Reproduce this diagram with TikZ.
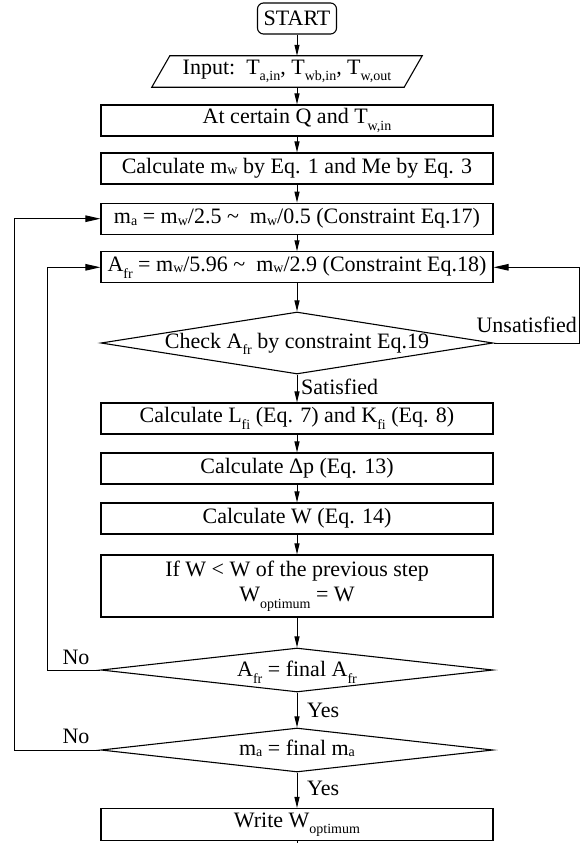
\documentclass[tikz,border=0pt]{standalone}
\usepackage{fontspec}
\setmainfont{Liberation Serif}
\usetikzlibrary{shapes.geometric,arrows.meta,calc}
% lowered subscript (T_{a,in}, A_{fr}, W_{optimum})
\newcommand\lsub[1]{\raisebox{-0.3em}{\fontsize{14}{14}\selectfont #1}}
% small subscript sitting near the baseline (m_w, m_a)
\newcommand\ssub[1]{\raisebox{-0.05em}{\fontsize{14}{14}\selectfont #1}}
\begin{document}
\begin{tikzpicture}[x=1pt,y=-1pt,
  every node/.style={font=\fontsize{22}{25}\selectfont},
  proc/.style={draw, line width=1.1pt, rectangle, minimum width=392pt,
    minimum height=31pt, inner sep=0pt},
  decide/.style={draw, line width=1.1pt, diamond, minimum width=392pt,
    inner sep=0pt},
  arr/.style={-{Triangle[length=11pt,width=5pt]}, line width=1pt},
  bigarr/.style={-{Triangle[length=15pt,width=6.5pt]}, line width=1pt},
  tag/.style={inner sep=0pt}
]
\path[use as bounding box] (0,0) rectangle (585,843);

% main column
\node[draw, line width=1.1pt, rounded corners=6pt, minimum width=79pt,
  minimum height=31pt, inner sep=2pt] (start) at (297,18.5) {START};
% input: a parallelogram drawn round an invisible box
\node[rectangle, minimum width=252pt, minimum height=31pt, inner sep=0pt]
  (input) at (287,71.5)
  {Input:\ \ T\lsub{a,in}, T\lsub{wb,in}, T\lsub{w,out}};
\draw[line width=1.1pt] ([xshift=-9pt]input.south west)
  -- ([xshift=-9pt]input.south east) -- ([xshift=9pt]input.north east)
  -- ([xshift=9pt]input.north west) -- cycle;
\node[proc] (atq) at (297,120.5) {At certain Q and T\lsub{w,in}\hspace{10pt}};
\node[proc] (mw) at (297,168.5) {Calculate m\ssub{w} by Eq. 1 and Me by Eq. 3};
\node[proc] (ma) at (297,218.7)
  {m\ssub{a} = m\ssub{w}/2.5 \textasciitilde\ \ m\ssub{w}/0.5 (Constraint Eq.17)};
\node[proc] (afr) at (297,267.3)
  {A\lsub{fr} = m\ssub{w}/5.96 \textasciitilde\ \ m\ssub{w}/2.9 (Constraint Eq.18)};
\node[decide, minimum height=62pt] (check) at (297,343) {};
\node[tag] (checktxt) at (297,344) {Check A\lsub{fr} by constraint Eq.19};
\node[proc] (lfi) at (297,418.5) {Calculate L\lsub{fi} (Eq. 7) and K\lsub{fi} (Eq. 8)};
\node[proc] (dp) at (297,468.5) {Calculate Δp (Eq. 13)};
\node[proc] (wcalc) at (297,518.5) {Calculate W (Eq. 14)};
\node[proc, minimum height=62pt, align=center] (ifw) at (297,586)
  {If W < W of the previous step\\W\lsub{optimum} = W};
\node[decide, minimum height=44pt] (afrend) at (297,670) {};
\node[tag] (afrendtxt) at (297,672) {A\lsub{fr} = final A\lsub{fr}};
\node[decide, minimum height=44pt] (maend) at (297,750) {};
\node[tag] (maendtxt) at (297,748) {m\ssub{a} = final m\ssub{a}};
\node[proc, minimum height=32pt] (write) at (297,824.5) {Write W\lsub{optimum}};

% loop rails and the stub leaving the last box
\coordinate (rail1) at (47,0);
\coordinate (rail2) at (14,0);
\coordinate (rail3) at (579,0);
\coordinate (tail) at (297,843);

% straight flow
\draw[arr] (start) -- (start.south |- input.north);
\draw[arr] (atq.north |- input.south) -- (atq);
\draw[arr] (atq) -- (mw);
\draw[arr] (mw) -- (ma);
\draw[arr] (ma) -- (afr);
\draw[arr] (afr) -- (check);
\draw[arr] (check) -- (lfi);
\draw[arr] (lfi) -- (dp);
\draw[arr] (dp) -- (wcalc);
\draw[arr] (wcalc) -- (ifw);
\draw[arr] (ifw) -- (afrend);
\draw[arr] (afrend) -- (maend);
\draw[arr] (maend) -- (write);
\draw[line width=1pt] (write) -- (tail);

% loops
\draw[bigarr] (check.east) -- (check.east -| rail3) |- (afr.east);
\draw[bigarr] (afrend.west) -- (afrend.west -| rail1) |- (afr.west);
\draw[bigarr] (maend.west) -- (maend.west -| rail2) |- (ma.west);

% branch labels
\node[tag, anchor=base east] (unsat) at (577,332) {Unsatisfied};
\node[tag, anchor=base west] (sat) at (301,394) {Satisfied};
\node[tag, anchor=base west] (yes1) at (307,717) {Yes};
\node[tag, anchor=base west] (yes2) at (307,795) {Yes};
\node[tag, anchor=base] (no1) at (76,664) {No};
\node[tag, anchor=base] (no2) at (76,743) {No};
\end{tikzpicture}
\end{document}
